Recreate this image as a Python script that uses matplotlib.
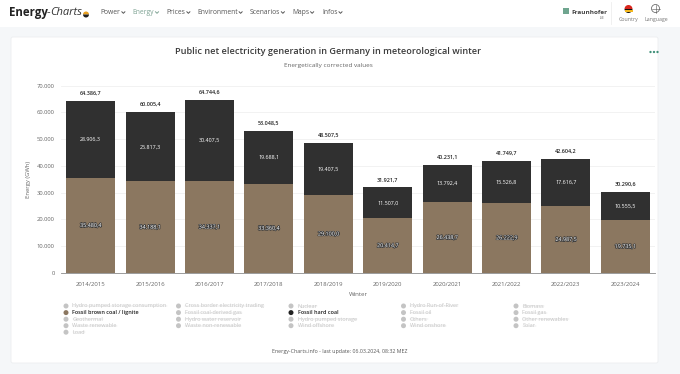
import matplotlib
matplotlib.use("Agg")
import matplotlib.pyplot as plt
import matplotlib.patheffects as pe
from matplotlib.patches import Rectangle, FancyBboxPatch, Circle, Wedge

plt.rcParams['font.family'] = ['Open Sans', 'DejaVu Sans']

winters = ["2014/2015", "2015/2016", "2016/2017", "2017/2018", "2018/2019",
           "2019/2020", "2020/2021", "2021/2022", "2022/2023", "2023/2024"]
brown_coal = [35480.4, 34188.1, 34337.1, 33360.4, 29100.0,
              20414.7, 26438.7, 26222.9, 24987.5, 19735.1]
hard_coal = [28906.3, 25817.3, 30407.5, 19688.1, 19407.5,
             11507.0, 13792.4, 15526.8, 17616.7, 10555.5]
yticks = [0, 10000, 20000, 30000, 40000, 50000, 60000, 70000]
nav_items = ["Power", "Energy", "Prices", "Environment", "Scenarios", "Maps", "Infos"]
nav_x = [100.5, 132.5, 166.5, 197, 249.5, 292, 322]
legend_rows = [
    ["Hydro pumped storage consumption", "Cross border electricity trading", "Nuclear", "Hydro Run-of-River", "Biomass"],
    ["Fossil brown coal / lignite", "Fossil coal-derived gas", "Fossil hard coal", "Fossil oil", "Fossil gas"],
    ["Geothermal", "Hydro water reservoir", "Hydro pumped storage", "Others", "Other renewables"],
    ["Waste renewable", "Waste non-renewable", "Wind offshore", "Wind onshore", "Solar"],
    ["Load"],
]
BROWN = "#8b7760"
DARK = "#303030"
W, H = 680, 374


def fmt(v):
    return f"{v:,.1f}".replace(",", "X").replace(".", ",").replace("X", ".")


fig = plt.figure(figsize=(W / 100, H / 100), dpi=100, facecolor="#f5f7f9")

bg = fig.add_axes([0, 0, 1, 1], zorder=0)
bg.set_xlim(0, W)
bg.set_ylim(H, 0)
bg.axis("off")
bg.add_patch(Rectangle((0, 0), W, 27, fc="white", ec="none"))
bg.add_patch(FancyBboxPatch((11, 37), 647, 326, boxstyle="round,pad=0,rounding_size=2",
                            fc="white", ec="#eceef0", lw=0.6))

# header
bg.text(9, 12.5, "Energy", fontsize=8.3, fontweight="bold", color="#222222", va="center")
bg.text(47, 12.5, "-", fontsize=8, color="#333333", va="center")
bg.text(50, 12.5, "Charts", fontsize=8, style="italic", color="#333333", va="center")
bg.add_patch(Wedge((86, 14.5), 3, 180, 360, fc="#e8a020", ec="none"))
bg.add_patch(Wedge((86, 14.5), 3, 0, 180, fc="#222222", ec="none"))
renderer = fig.canvas.get_renderer()
inv = bg.transData.inverted()
for name, x in zip(nav_items, nav_x):
    c = "#7fa394" if name == "Energy" else "#555555"
    lbl = bg.text(x, 12.5, name, fontsize=4.9, color=c, va="center")
    x1 = inv.transform(lbl.get_window_extent(renderer))[1, 0]
    bg.plot([x1 + 1.5, x1 + 3, x1 + 4.5], [11.8, 13.3, 11.8], color=c, lw=0.7)
bg.add_patch(Rectangle((563, 8), 6, 6, fc="#6fa58f", ec="none"))
bg.text(571, 12.5, "Fraunhofer", fontsize=4.6, fontweight="bold", color="#444444", va="center")
bg.text(604, 18, "ISE", fontsize=2.5, color="#666666", ha="right", va="center")
bg.plot([610.5, 610.5], [2, 24], color="#eeeeee", lw=0.6)
bg.add_patch(Wedge((628.5, 9), 4, 0, 180, fc="#111111", ec="none"))
bg.add_patch(Wedge((628.5, 9), 4, 180, 360, fc="#d9251c", ec="none"))
bg.add_patch(Rectangle((624.5, 10), 8, 1.6, fc="#f3b81f", ec="none"))
bg.text(628.5, 19.5, "Country", fontsize=3.8, color="#777777", ha="center", va="center")
bg.add_patch(Circle((655.5, 8.5), 4, fc="none", ec="#555555", lw=0.5))
bg.plot([651.5, 659.5], [8.5, 8.5], color="#555555", lw=0.4)
bg.plot([655.5, 655.5], [4.5, 12.5], color="#555555", lw=0.4)
bg.text(656, 19.5, "Language", fontsize=3.8, color="#777777", ha="center", va="center")

# title block
bg.text(328.5, 51, "Public net electricity generation in Germany in meteorological winter",
        fontsize=6.55, color="#3a3a3a", ha="center", va="center", fontweight="semibold")
bg.text(328, 65.5, "Energetically corrected values", fontsize=4.6, color="#666666", ha="center", va="center")
for x in (650.5, 654, 657.5):
    bg.add_patch(Circle((x, 52), 1.15, fc="#3f8f78", ec="none"))

# legend
leg_x = [66, 178.5, 291, 403.5, 516]
leg_y = [306, 312.6, 319.2, 325.7, 332.2]
for row, y in zip(legend_rows, leg_y):
    for name, x in zip(row, leg_x):
        active = name in ("Fossil brown coal / lignite", "Fossil hard coal")
        col = {"Fossil brown coal / lignite": BROWN, "Fossil hard coal": "#222222"}.get(name, "#c4c4c4")
        bg.add_patch(Circle((x, y), 2.5, fc=col, ec="none"))
        txt = bg.text(x + 6.5, y, name, fontsize=3.95, va="center",
                      color="#222222" if active else "#c4c4c4", fontweight="semibold" if active else "normal")
        if not active:
            ext = inv.transform(txt.get_window_extent(renderer))
            bg.plot([ext[0, 0], ext[1, 0]], [y + 0.2, y + 0.2], color="#d6d6d6", lw=0.35)

bg.text(340, 351, "Energy-Charts.info - last update: 06.03.2024, 08:32 MEZ",
        fontsize=3.75, color="#555555", ha="center", va="center")

# chart
L, R, T, B = 61, 655, 85.5, 273
ax = fig.add_axes([L / W, 1 - B / H, (R - L) / W, (B - T) / H], zorder=1)
ax.patch.set_alpha(0)
positions = list(range(len(winters)))
ax.bar(positions, brown_coal, width=0.825, color=BROWN, zorder=2)
ax.bar(positions, hard_coal, width=0.825, bottom=brown_coal, color=DARK, zorder=2)
ax.set_xlim(-0.5, len(winters) - 0.5)
ax.set_ylim(0, 70000)
ax.set_yticks(yticks, [f"{v:,}".replace(",", ".") for v in yticks])
ax.set_xticks(positions, winters)
ax.tick_params(axis="both", length=0, labelcolor="#666666")
ax.tick_params(axis="x", pad=6.5, labelsize=4.3)
ax.tick_params(axis="y", pad=4.5, labelsize=4.2)
ax.grid(axis="y", color="#f0f0f0", lw=0.6, zorder=0)
ax.set_axisbelow(True)
for s in ("top", "right", "left"):
    ax.spines[s].set_visible(False)
ax.spines["bottom"].set_color("#8a8a8a")
ax.spines["bottom"].set_linewidth(0.6)
ax.set_ylabel("Energy (GWh)", fontsize=4.2, color="#666666", labelpad=4)
ax.set_xlabel("Winter", fontsize=4.4, color="#666666", labelpad=3.5)

outline = [pe.withStroke(linewidth=1.0, foreground="#3a3a3a")]
for x, b, h in zip(positions, brown_coal, hard_coal):
    ax.text(x, b / 2, fmt(b), fontsize=3.9, color="white", ha="center", va="center",
            zorder=3, path_effects=outline)
    ax.text(x, b + h / 2, fmt(h), fontsize=3.9, color="white", ha="center", va="center", zorder=3)
    ax.annotate(fmt(b + h), (x, b + h), xytext=(0, 5.5), textcoords="offset points",
                fontsize=3.9, color="#222222", ha="center", va="center", fontweight="semibold", zorder=3)

fig.savefig("out.png", dpi=100, facecolor=fig.get_facecolor())
